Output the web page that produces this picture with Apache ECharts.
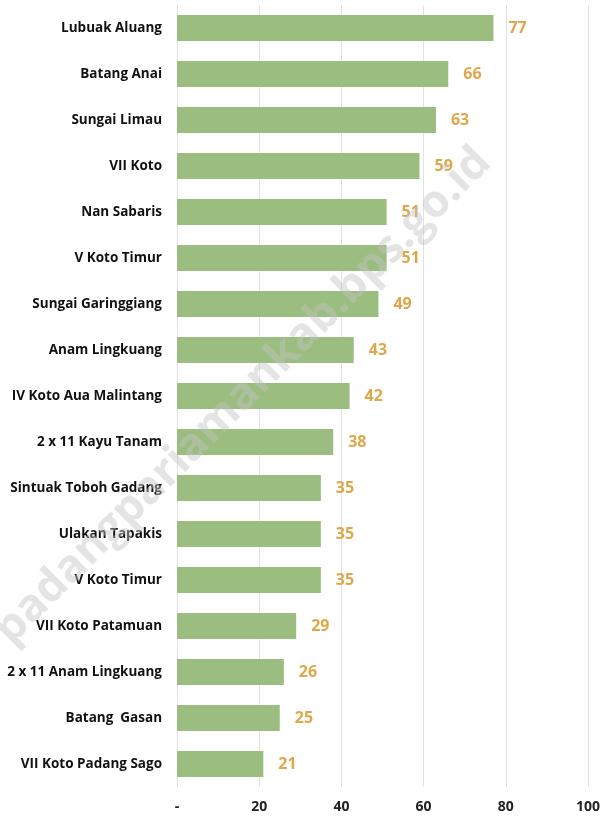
<!DOCTYPE html>
<html><head><meta charset="utf-8">
<script src="https://cdn.jsdelivr.net/npm/echarts@6/dist/echarts.min.js"></script>
<style>html,body{margin:0;padding:0;background:#fff}#c{width:606px;height:819px}</style>
</head><body><div id="c"></div>
<script>
const categories = ["Lubuak Aluang","Batang Anai","Sungai Limau","VII Koto","Nan Sabaris","V Koto Timur","Sungai Garinggiang","Anam Lingkuang","IV Koto Aua Malintang","2 x 11 Kayu Tanam","Sintuak Toboh Gadang","Ulakan Tapakis","V Koto Timur","VII Koto Patamuan","2 x 11 Anam Lingkuang","Batang  Gasan","VII Koto Padang Sago"];
const values = [77,66,63,59,51,51,49,43,42,38,35,35,35,29,26,25,21];
const xTicks = {0:"-",20:"20",40:"40",60:"60",80:"80",100:"100"};
const chart = echarts.init(document.getElementById('c'));
chart.setOption({
  animation:false,
  grid:{left:177,right:18,top:5,bottom:32,containLabel:false},
  xAxis:{type:'value',min:0,max:100,interval:20,
    axisLine:{show:false},axisTick:{show:false},
    splitLine:{lineStyle:{color:'#e2e2e2',width:1}},
    axisLabel:{formatter:v=>xTicks[v],color:'#222',fontFamily:'Open Sans',fontWeight:'bold',fontSize:14,margin:13}},
  yAxis:{type:'category',data:categories,inverse:true,
    axisLine:{show:false},axisTick:{show:false},
    axisLabel:{color:'#111',fontFamily:'Open Sans',fontWeight:'bold',fontSize:13.5,margin:15}},
  series:[{type:'bar',data:values,barWidth:26,
    itemStyle:{color:'#9bbd7f'},
    label:{show:true,position:'right',distance:15,color:'#e0a64a',fontFamily:'Open Sans',fontWeight:'bold',fontSize:16}}],
  graphic:[{type:'text',x:243,y:396,rotation:Math.PI/4,
    style:{text:'padangpariamankab.bps.go.id',fill:'rgba(195,195,195,0.45)',font:'bold 45px "Open Sans"',textAlign:'center',textVerticalAlign:'middle'},z:100}]
});
</script></body></html>
